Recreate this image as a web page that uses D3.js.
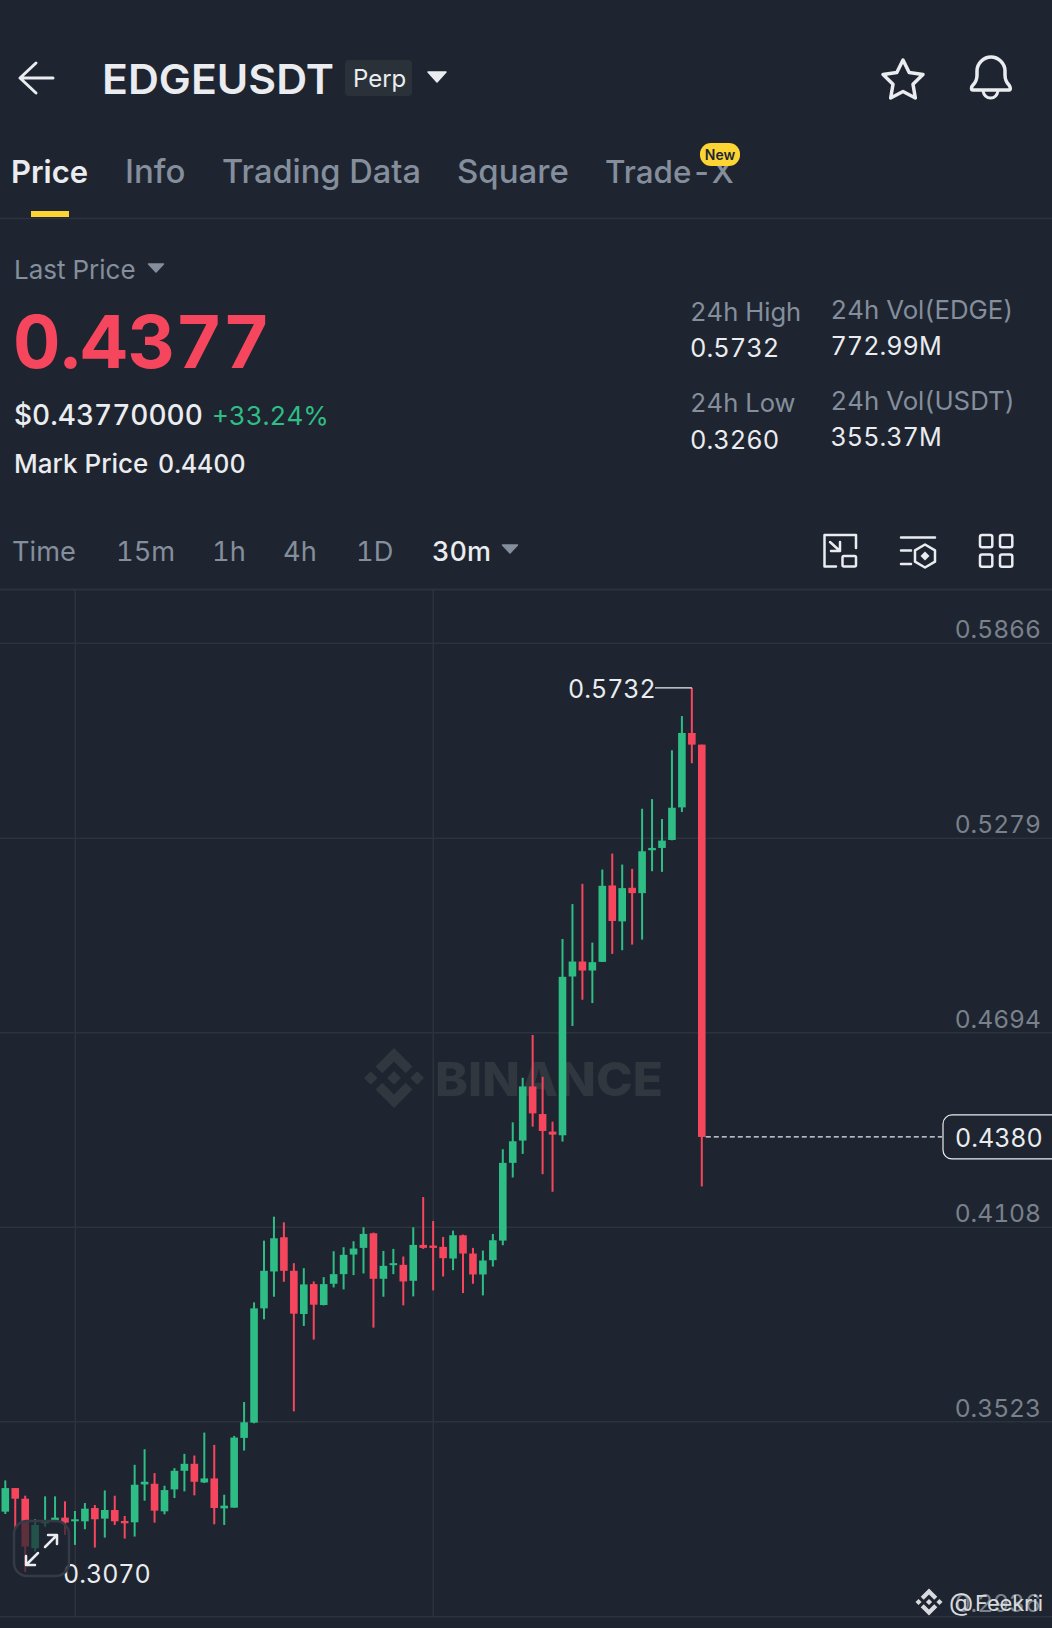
<!DOCTYPE html>
<html>
<head>
<meta charset="utf-8">
<script src="https://cdn.jsdelivr.net/npm/d3@7"></script>
<style>
  html, body { margin: 0; padding: 0; background: #1e2530; }
  svg { display: block; }
  text { font-family: Inter, "Noto Sans", sans-serif; font-variant-numeric: tabular-nums; }
</style>
</head>
<body>
<div id="chart"></div>
<script>
// prices, one entry per 30m candle
const opens = [.3252,.3323,.3291,.3142,.3217,.3225,.3234,.3223,.3223,.3263,.3231,.3257,.3224,.3220,.3334,.3336,.3253,.3319,.3375,.3396,.3340,.3352,.3262,.3264,.3474,.3520,.3864,.3975,.4078,.3977,.3847,.3937,.3874,.3938,.3967,.4026,.4046,.4090,.3953,.3995,.3995,.3947,.4055,.4053,.4049,.4014,.4084,.4029,.3966,.4009,.4068,.4302,.4369,.4532,.4449,.4396,.4385,.4863,.4908,.4881,.4907,.5137,.5029,.5130,.5114,.5243,.5250,.5274,.5372,.5596,.5561];
const highs = [.3346,.3323,.3300,.3229,.3298,.3298,.3283,.3254,.3278,.3272,.3316,.3300,.3239,.3393,.3440,.3368,.3330,.3383,.3426,.3421,.3490,.3453,.3303,.3480,.3582,.3882,.4068,.4140,.4123,.4000,.3985,.3945,.3958,.4036,.4048,.4066,.4108,.4092,.4037,.4043,.4020,.4108,.4199,.4127,.4079,.4098,.4086,.4046,.4038,.4088,.4343,.4424,.4558,.4687,.4561,.4426,.4976,.5081,.5142,.4965,.5185,.5233,.5200,.5187,.5368,.5397,.5337,.5544,.5647,.5732,.5561];
const lows = [.3245,.3199,.3070,.3132,.3207,.3222,.3182,.3152,.3199,.3144,.3174,.3212,.3171,.3177,.3285,.3219,.3244,.3293,.3313,.3301,.3338,.3214,.3212,.3264,.3436,.3518,.3831,.3899,.3944,.3554,.3811,.3770,.3873,.3927,.3921,.3964,.3969,.3806,.3899,.3967,.3873,.3900,.4043,.3918,.3960,.3979,.3910,.3938,.3903,.3990,.4054,.4258,.4329,.4411,.4268,.4215,.4366,.4714,.4793,.4783,.4907,.4931,.4942,.4959,.4974,.5180,.5178,.5273,.5358,.5505,.4231];
const closes = [.3323,.3291,.3147,.3212,.3225,.3234,.3219,.3229,.3261,.3229,.3257,.3223,.3217,.3333,.3342,.3255,.3317,.3375,.3396,.3342,.3352,.3263,.3270,.3475,.3521,.3864,.3977,.4075,.3977,.3848,.3936,.3875,.3937,.3967,.4025,.4044,.4088,.3953,.3992,.4000,.3945,.4055,.4046,.4046,.4015,.4084,.4029,.3966,.4008,.4069,.4302,.4367,.4532,.4451,.4398,.4387,.4862,.4908,.4881,.4906,.5136,.5030,.5129,.5114,.5240,.5250,.5272,.5371,.5596,.5561,.4380];

const priceTicks = ["0.5866", "0.5279", "0.4694", "0.4108", "0.3523", "0.2936"];
const highLabel = 0.5732;
const lowLabel = 0.3070;
const lastLabel = 0.4380;

const tabs = ["Price", "Info", "Trading Data", "Square", "Trade-X"];
const tabX = [11, 125, 222, 457, 605];
const tabSize = [31, 33, 32.6, 33, 31.4];
const intervals = ["Time", "15m", "1h", "4h", "1D", "30m"];
const intervalX = [12, 116, 212, 283, 356, 432];

const width = 1052;
const height = 1628;
const green = "#2ebd85";
const red = "#f6465d";
const grey = "#848e9c";
const white = "#eaecef";
const gridColor = "#2c333d";

const logoPaths = [
  "M38.73 53.2l24.59-24.58 24.6 24.6 14.3-14.31L63.32 0 24.43 38.9z",
  "M0 63.31l14.3-14.31 14.31 14.31-14.31 14.3z",
  "M38.73 73.41l24.59 24.59 24.6-24.6 14.31 14.29-38.9 38.91-38.91-38.88-.02-.02z",
  "M98 63.31l14.3-14.31 14.31 14.3-14.31 14.32z",
  "M77.83 63.3L63.32 48.78 52.59 59.51l-1.24 1.23-2.54 2.54 14.51 14.5 14.51-14.47z",
];

const svg = d3
  .select("#chart")
  .append("svg")
  .attr("width", width)
  .attr("height", height)
  .attr("viewBox", `0 0 ${width} ${height}`);

svg.append("rect").attr("width", width).attr("height", height).attr("fill", "#1e2530");

function label(txt, x, y, size, color, weight = 400, anchor = "start") {
  return svg
    .append("text")
    .attr("x", x)
    .attr("y", y)
    .attr("font-size", size)
    .attr("font-weight", weight)
    .attr("fill", color)
    .attr("text-anchor", anchor)
    .text(txt);
}

function triangle(cx, cy, w, h, color) {
  svg
    .append("path")
    .attr("d", `M${cx - w / 2} ${cy - h / 2}H${cx + w / 2}L${cx} ${cy + h / 2}Z`)
    .attr("fill", color)
    .attr("stroke", color)
    .attr("stroke-width", 1.5)
    .attr("stroke-linejoin", "round");
}

function icon(d, strokeWidth = 3) {
  return svg
    .append("path")
    .attr("d", d)
    .attr("fill", "none")
    .attr("stroke", white)
    .attr("stroke-width", strokeWidth)
    .attr("stroke-linecap", "round")
    .attr("stroke-linejoin", "round");
}

function logo(cx, cy, size, color) {
  const k = size / 126.61;
  const g = svg.append("g").attr("transform", `translate(${cx - size / 2},${cy - size / 2}) scale(${k})`);
  logoPaths.forEach((d) => g.append("path").attr("d", d).attr("fill", color));
}

// header
icon("M53 78H20M36 63L20 78L36 93");
label("EDGEUSDT", 102, 94, 41, white, 600).attr("textLength", 232).attr("lengthAdjust", "spacingAndGlyphs");
svg.append("rect").attr("x", 345).attr("y", 60).attr("width", 67).attr("height", 36).attr("rx", 4).attr("fill", "#2b3139");
label("Perp", 353, 87, 24, white);
triangle(437, 77, 18, 10, white);

// star and bell
const starPts = d3.range(10).map((i) => {
  const r = i % 2 ? 10.5 : 21;
  const a = (i * Math.PI) / 5 - Math.PI / 2;
  return [903 + r * Math.cos(a), 81 + r * Math.sin(a)];
});
icon("M" + starPts.map((p) => p.join(" ")).join("L") + "Z", 3.5);
icon("M973 90H1009C1011 90 1010.5 87 1009 85C1006 82 1005 79 1005 75V71C1005 63 998 57 991 57C984 57 977 63 977 71V75C977 79 976 82 973 85C971 87 971 90 973 90Z", 3.5);
icon("M983 91C984 96 987 98 990.7 98C994 98 997 96 998 91", 3);

// tabs
tabs.forEach((t, i) => label(t, tabX[i], 183, tabSize[i], i === 0 ? white : grey, i === 0 ? 600 : 500));
svg.append("rect").attr("x", 31).attr("y", 211).attr("width", 38).attr("height", 6).attr("fill", "#fcd535");
svg.append("line").attr("x1", 0).attr("x2", width).attr("y1", 218.5).attr("y2", 218.5).attr("stroke", gridColor).attr("stroke-width", 1.5);
svg.append("rect").attr("x", 700).attr("y", 143).attr("width", 40).attr("height", 23).attr("rx", 11).attr("fill", "#fcd535");
label("New", 720, 160, 14, "#1e2530", 600, "middle");

// price block
label("Last Price", 14, 279, 26, grey, 400);
triangle(156, 268, 15, 8, grey);
label("0.4377", 13, 368, 73.5, red, 700);
label("$0.43770000", 14, 425, 28, white, 500);
label("+33.24%", 212, 425, 26, green, 400);
label("Mark Price", 14, 473, 26, white, 500);
label("0.4400", 158, 473, 25, white, 500);

label("24h High", 690, 321, 25.6, grey);
label("0.5732", 690, 357, 25.4, white);
label("24h Low", 690, 412, 25.6, grey);
label("0.3260", 690, 449, 25.4, white);
label("24h Vol(EDGE)", 830.5, 319, 25.8, grey);
label("772.99M", 830.5, 355, 25.2, white);
label("24h Vol(USDT)", 830.5, 410, 25.8, grey);
label("355.37M", 830.5, 446, 25.2, white);

// interval row
intervals.forEach((t, i) => label(t, intervalX[i], 561, i === 5 ? 27 : 27.2, i === 5 ? white : grey, i === 5 ? 500 : 400));
triangle(510, 549, 15, 8, grey);
icon("M856 548V535H824.5V566.5H836M830 542L840 551M831 551H840V542", 2.5);
svg.append("rect").attr("x", 842.5).attr("y", 556).attr("width", 13.5).attr("height", 10.5).attr("rx", 1.5).attr("fill", "none").attr("stroke", white).attr("stroke-width", 2.5);
icon("M901 537.5H935M901 550.5H911M901 564H911", 2.5);
icon("M925 544.5L935 550.3V561.7L925 567.5L915 561.7V550.3Z", 2.5);
svg.append("path").attr("d", "M925 551.5L929.5 556L925 560.5L920.5 556Z").attr("fill", white);
[[980, 535], [1000, 535], [980, 554.5], [1000, 554.5]].forEach((p) => {
  svg.append("rect").attr("x", p[0]).attr("y", p[1]).attr("width", 12.3).attr("height", 12.3).attr("rx", 2).attr("fill", "none").attr("stroke", white).attr("stroke-width", 2.5);
});

// chart
const y = d3.scaleLinear().domain([0.4108, 0.5279]).range([1227.3, 838.3]);
const x = d3.scaleLinear().domain([0, 70]).range([5.3, 701.8]);

svg.append("line").attr("x1", 0).attr("x2", width).attr("y1", 589.5).attr("y2", 589.5).attr("stroke", gridColor).attr("stroke-width", 2);

svg
  .append("g")
  .selectAll("line")
  .data(priceTicks)
  .enter()
  .append("line")
  .attr("x1", 0)
  .attr("x2", width)
  .attr("y1", (d) => y(+d))
  .attr("y2", (d) => y(+d))
  .attr("stroke", gridColor)
  .attr("stroke-width", 1.5);

[75.3, 433.3].forEach((vx) => {
  svg.append("line").attr("x1", vx).attr("x2", vx).attr("y1", 590).attr("y2", 1617).attr("stroke", gridColor).attr("stroke-width", 1.5);
});

// big watermark sits under the candles
logo(394, 1078, 60, "#31373f");
label("BINANCE", 435, 1096, 47, "#31373f", 800).attr("textLength", 228).attr("lengthAdjust", "spacingAndGlyphs");

const candles = svg
  .append("g")
  .selectAll("g")
  .data(opens.map((o, i) => i))
  .enter()
  .append("g")
  .attr("fill", (i) => (closes[i] >= opens[i] ? green : red));

candles
  .append("rect")
  .attr("x", (i) => x(i) - 1)
  .attr("width", 2)
  .attr("y", (i) => y(highs[i]))
  .attr("height", (i) => y(lows[i]) - y(highs[i]));

candles
  .append("rect")
  .attr("x", (i) => x(i) - 3.8)
  .attr("width", 7.6)
  .attr("y", (i) => y(Math.max(opens[i], closes[i])))
  .attr("height", (i) => Math.max(2, Math.abs(y(opens[i]) - y(closes[i]))));

// price axis labels
priceTicks.forEach((t) => {
  label(t, 1041, y(+t) - 5, 24.6, "#79818c", 400, "end");
});

// high / low markers
label(highLabel.toFixed(4), 568, y(highLabel) + 10, 25, white);
svg.append("line").attr("x1", 655).attr("x2", x(69)).attr("y1", y(highLabel)).attr("y2", y(highLabel)).attr("stroke", white).attr("stroke-width", 1.2);
label(lowLabel.toFixed(4), 63, 1583, 25, white);

// last price pill
svg
  .append("line")
  .attr("x1", x(70) + 4)
  .attr("x2", 942)
  .attr("y1", y(lastLabel))
  .attr("y2", y(lastLabel))
  .attr("stroke", white)
  .attr("stroke-width", 1.2)
  .attr("stroke-dasharray", "5 3");
svg
  .append("rect")
  .attr("x", 943)
  .attr("y", y(lastLabel) - 22)
  .attr("width", 130)
  .attr("height", 44)
  .attr("rx", 9)
  .attr("fill", "#1e2530")
  .attr("stroke", white)
  .attr("stroke-width", 1.2);
label(lastLabel.toFixed(4), 955, y(lastLabel) + 10, 25, white);

// expand button
svg
  .append("rect")
  .attr("x", 14)
  .attr("y", 1521)
  .attr("width", 55)
  .attr("height", 55)
  .attr("rx", 13)
  .attr("fill", "#1e2530")
  .attr("fill-opacity", 0.7)
  .attr("stroke", "#343b46")
  .attr("stroke-width", 2.5);
icon("M26 1565L38 1553M26 1556V1565H35M57 1535L45 1547M48 1535H57V1544", 2.5);

// bottom mark
logo(929, 1602, 27, "#d8dadd");
label("@", 949, 1611, 25, "#d8dadd");
label("Feekrii", 975, 1611, 22, "#d8dadd").attr("textLength", 68);
</script>
</body>
</html>
